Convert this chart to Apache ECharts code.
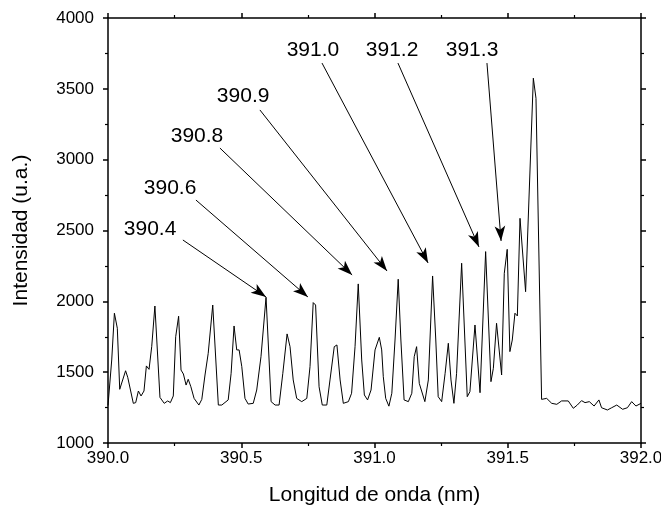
<!DOCTYPE html>
<html>
<head>
<meta charset="utf-8">
<script src="https://cdn.jsdelivr.net/npm/echarts@6/dist/echarts.min.js"></script>
<style>
  html, body { margin: 0; padding: 0; background: #fff; }
  #chart { width: 661px; height: 513px; }
</style>
</head>
<body>
<div id="chart"></div>
<script>
// espectro medido (nm, u.a.)
var wavelength = [
  390.000, 390.014, 390.024, 390.035, 390.044, 390.066, 390.074, 390.095, 390.104, 390.114,
  390.124, 390.135, 390.144, 390.154, 390.164, 390.176, 390.195, 390.211, 390.224, 390.234,
  390.245, 390.254, 390.265, 390.274, 390.283, 390.293, 390.301, 390.311, 390.323, 390.341,
  390.352, 390.364, 390.376, 390.393, 390.414, 390.427, 390.451, 390.462, 390.473, 390.483,
  390.492, 390.502, 390.514, 390.526, 390.545, 390.558, 390.574, 390.593, 390.612, 390.627,
  390.642, 390.656, 390.672, 390.683, 390.695, 390.708, 390.727, 390.746, 390.758, 390.770,
  390.779, 390.792, 390.804, 390.821, 390.833, 390.849, 390.859, 390.871, 390.883, 390.902,
  390.914, 390.927, 390.939, 390.952, 390.962, 390.974, 390.987, 391.002, 391.018, 391.027,
  391.033, 391.042, 391.054, 391.065, 391.077, 391.089, 391.099, 391.111, 391.127, 391.140,
  391.149, 391.158, 391.168, 391.189, 391.202, 391.218, 391.230, 391.239, 391.252, 391.265,
  391.277, 391.287, 391.298, 391.308, 391.327, 391.348, 391.358, 391.377, 391.396, 391.417,
  391.437, 391.446, 391.458, 391.477, 391.487, 391.498, 391.508, 391.517, 391.527, 391.536,
  391.546, 391.567, 391.596, 391.606, 391.627, 391.646, 391.665, 391.684, 391.702, 391.727,
  391.746, 391.761, 391.777, 391.790, 391.806, 391.824, 391.842, 391.852, 391.874, 391.890,
  391.909, 391.931, 391.949, 391.965, 391.981, 392.000
];
var intensity = [
  1265, 1586, 1916, 1810, 1379, 1510, 1464, 1280, 1285, 1367,
  1332, 1367, 1544, 1520, 1680, 1967, 1322, 1280, 1297, 1285,
  1332, 1750, 1895, 1515, 1487, 1409, 1450, 1397, 1315, 1268,
  1308, 1480, 1633, 1974, 1268, 1268, 1304, 1492, 1826, 1657,
  1657, 1539, 1315, 1275, 1280, 1374, 1609, 2029, 1292, 1268,
  1268, 1492, 1770, 1680, 1445, 1315, 1292, 1315, 1539, 1991,
  1974, 1397, 1268, 1268, 1445, 1680, 1692, 1445, 1280, 1292,
  1351, 1680, 2123, 1586, 1339, 1304, 1374, 1657, 1746, 1657,
  1468, 1315, 1260, 1351, 1727, 2156, 1727, 1304, 1292, 1351,
  1609, 1680, 1421, 1292, 1445, 2179, 1727, 1327, 1292, 1492,
  1704, 1445, 1280, 1492, 2269, 1327, 1362, 1833, 1355, 2351,
  1433, 1527, 1845, 1480, 2198, 2367, 1645, 1727, 1916, 1897,
  2586, 2068, 3575, 3433, 1308, 1315, 1280, 1273, 1297, 1297,
  1245, 1268, 1299, 1285, 1292, 1261, 1304, 1249, 1233, 1249,
  1268, 1238, 1249, 1292, 1261, 1280
];

// etiquetas de las flechas
var annoLabels = ['390.4', '390.6', '390.8', '390.9', '391.0', '391.2', '391.3'];
var annoTextX = [390.158, 390.233, 390.334, 390.507, 390.769, 391.066, 391.366];
var annoTextY = [2511, 2800, 3167, 3449, 3774, 3774, 3774];
var annoTailX = [390.281, 390.330, 390.420, 390.570, 390.803, 391.088, 391.422];
var annoTailY = [2433, 2715, 3082, 3351, 3682, 3682, 3682];
var annoTipX = [390.593, 390.750, 390.916, 391.047, 391.201, 391.392, 391.475];
var annoTipY = [2031, 2031, 2186, 2214, 2271, 2384, 2426];

var chart = echarts.init(document.getElementById('chart'), null, { renderer: 'canvas' });

var specData = wavelength.map(function (x, i) { return [x, intensity[i]]; });
var arrowData = annoLabels.map(function (l, i) {
  return [{ coord: [annoTailX[i], annoTailY[i]] }, { coord: [annoTipX[i], annoTipY[i]] }];
});
var labelData = annoLabels.map(function (l, i) { return [annoTextX[i], annoTextY[i], l]; });

var FONT = 'Liberation Sans, Arial, sans-serif';
var axisLine = { show: true, onZero: false, lineStyle: { color: '#000', width: 1.5 } };

function mirrorAxis(base) {
  return Object.assign({
    type: 'value',
    axisLine: axisLine,
    axisTick: { show: true, inside: false, length: 5, lineStyle: { color: '#000', width: 1.5 } },
    minorTick: { show: true, splitNumber: 2, length: 3, lineStyle: { color: '#000', width: 1.2 } },
    axisLabel: { show: false },
    splitLine: { show: false }
  }, base);
}

var option = {
  animation: false,
  backgroundColor: '#fff',
  textStyle: { fontFamily: FONT },
  grid: { left: 108, right: 20, top: 18, bottom: 70, containLabel: false, outerBoundsMode: 'none' },
  xAxis: [
    mirrorAxis({
      position: 'bottom',
      min: 390, max: 392, interval: 0.5,
      name: 'Longitud de onda (nm)',
      nameLocation: 'middle',
      nameGap: 42,
      nameTextStyle: { color: '#000', fontSize: 21, fontFamily: FONT },
      axisLabel: {
        show: true, color: '#000', fontSize: 17, fontFamily: FONT, margin: 7,
        formatter: function (v) { return v.toFixed(1); }
      }
    }),
    mirrorAxis({ position: 'top', min: 390, max: 392, interval: 0.5 })
  ],
  yAxis: [
    mirrorAxis({
      position: 'left',
      min: 1000, max: 4000, interval: 500,
      name: 'Intensidad (u.a.)',
      nameLocation: 'middle',
      nameGap: 76,
      nameTextStyle: { color: '#000', fontSize: 21, fontFamily: FONT },
      axisLabel: {
        show: true, color: '#000', fontSize: 17, fontFamily: FONT, margin: 14,
        formatter: function (v) { return String(v); }
      }
    }),
    mirrorAxis({ position: 'right', min: 1000, max: 4000, interval: 500 })
  ],
  series: [
    {
      type: 'line',
      data: specData,
      symbol: 'none',
      lineStyle: { color: '#000', width: 1 },
      markLine: {
        silent: true,
        symbol: ['none', 'arrow'],
        symbolSize: [8, 15],
        label: { show: false },
        lineStyle: { color: '#000', width: 1, type: 'solid' },
        data: arrowData
      }
    },
    {
      type: 'scatter',
      data: labelData,
      symbolSize: 0,
      itemStyle: { color: '#000' },
      silent: true,
      label: {
        show: true,
        position: 'inside',
        color: '#000',
        opacity: 1,
        fontSize: 21,
        fontFamily: FONT,
        formatter: function (p) { return p.value[2]; }
      }
    }
  ]
};

chart.setOption(option);
</script>
</body>
</html>
